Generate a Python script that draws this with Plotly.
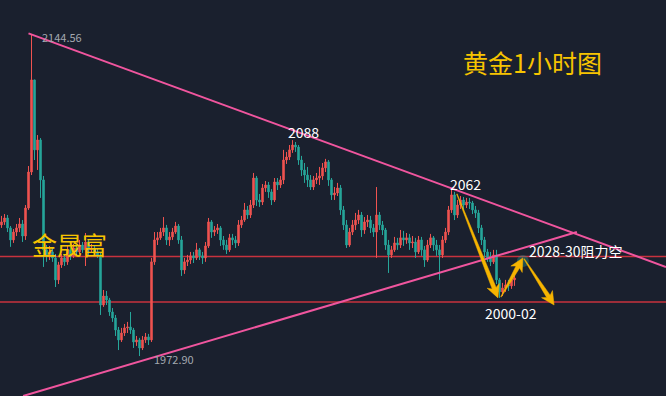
import math
import plotly.graph_objects as go

# ---------------- data (hourly gold candles) ----------------
first_open = 2042.8
close = [2044.4, 2046.5, 2041.2, 2034.8, 2039.0, 2041.2, 2043.3, 2036.9, 2051.8, 2071.0,
         2120.1, 2082.8, 2088.1, 2066.8, 2029.5, 2026.8, 2028.4, 2025.2, 2013.5, 2021.5,
         2025.2, 2023.1, 2029.5, 2026.3, 2030.5, 2028.4, 2032.1, 2029.5, 2033.7, 2029.5,
         2030.5, 2028.4, 2026.8, 2000.1, 2004.9, 2002.8, 1996.4, 1993.2, 1986.8, 1981.5,
         1985.2, 1987.9, 1988.4, 1986.8, 1980.4, 1981.5, 1977.2, 1981.5, 1983.1, 1981.5,
         2023.1, 2034.8, 2035.9, 2039.0, 2041.2, 2034.8, 2036.4, 2039.0, 2042.2, 2034.8,
         2018.8, 2023.1, 2024.1, 2026.3, 2025.2, 2029.5, 2026.3, 2025.2, 2031.6, 2044.4,
         2039.0, 2040.1, 2041.2, 2034.8, 2032.1, 2029.5, 2035.9, 2034.8, 2033.2, 2042.8,
         2045.4, 2050.8, 2048.1, 2053.4, 2067.8, 2056.1, 2055.0, 2062.5, 2064.1, 2060.4,
         2056.1, 2065.7, 2064.1, 2066.8, 2077.4, 2079.0, 2082.8, 2085.4, 2084.3, 2077.4,
         2072.1, 2069.4, 2066.8, 2063.0, 2066.8, 2067.8, 2068.9, 2073.2, 2076.4, 2066.8,
         2058.8, 2059.8, 2062.5, 2050.8, 2042.8, 2032.1, 2039.0, 2042.8, 2045.4, 2048.1,
         2040.1, 2044.4, 2045.4, 2041.2, 2039.0, 2048.1, 2042.8, 2040.1, 2032.1, 2026.8,
         2029.5, 2033.2, 2032.1, 2035.9, 2034.8, 2035.9, 2033.2, 2033.7, 2028.4, 2034.8,
         2029.5, 2024.1, 2032.1, 2035.9, 2032.1, 2029.5, 2026.8, 2034.8, 2039.0, 2050.8,
         2058.8, 2048.1, 2053.4, 2056.1, 2053.4, 2055.0, 2054.5, 2050.8, 2049.2, 2041.2,
         2034.8, 2028.4, 2025.2, 2023.1, 2026.8, 2013.5, 2007.1, 2009.2, 2010.8, 2010.3,
         2013.5, 2014.5]
high = [2047.6, 2048.6, 2048.1, 2042.2, 2040.6, 2043.3, 2046.5, 2045.4, 2053.4, 2074.2,
        2144.56, 2120.1, 2090.7, 2089.1, 2068.9, 2032.1, 2031.6, 2030.5, 2027.3, 2023.1,
        2027.3, 2026.8, 2031.6, 2031.1, 2032.7, 2032.1, 2034.8, 2033.7, 2038.5, 2034.8,
        2032.7, 2031.6, 2030.5, 2028.4, 2008.1, 2007.6, 2003.9, 1998.5, 1994.8, 1988.4,
        1987.9, 1990.0, 1991.1, 1996.4, 1987.9, 1983.6, 1982.6, 1983.6, 1985.2, 1984.7,
        2025.2, 2039.0, 2039.0, 2041.2, 2047.0, 2042.8, 2039.0, 2041.2, 2044.4, 2043.3,
        2036.9, 2025.2, 2026.8, 2028.4, 2028.4, 2033.2, 2030.5, 2028.4, 2033.7, 2046.5,
        2045.4, 2042.2, 2043.3, 2042.2, 2036.9, 2034.8, 2038.0, 2038.0, 2036.9, 2045.4,
        2047.6, 2054.5, 2052.9, 2056.1, 2070.5, 2068.9, 2059.3, 2064.6, 2066.2, 2065.7,
        2061.9, 2067.8, 2067.8, 2068.9, 2082.8, 2081.7, 2085.4, 2088.0, 2087.0, 2085.4,
        2079.6, 2075.8, 2073.7, 2069.4, 2068.9, 2070.5, 2073.7, 2075.8, 2078.0, 2077.4,
        2067.8, 2063.0, 2065.2, 2064.1, 2052.9, 2045.4, 2041.2, 2045.4, 2049.2, 2050.8,
        2049.7, 2047.0, 2048.1, 2047.6, 2043.3, 2063.0, 2049.7, 2044.9, 2041.2, 2034.8,
        2031.6, 2036.4, 2035.9, 2040.1, 2039.6, 2038.5, 2038.0, 2036.9, 2035.9, 2036.9,
        2036.4, 2031.6, 2034.8, 2038.0, 2036.9, 2034.8, 2032.1, 2036.9, 2041.2, 2052.9,
        2062.0, 2060.4, 2056.1, 2058.2, 2057.7, 2057.2, 2057.2, 2055.6, 2052.9, 2050.8,
        2042.8, 2036.4, 2030.0, 2028.4, 2029.5, 2029.5, 2014.5, 2011.9, 2013.5, 2013.5,
        2015.6, 2017.2]
low = [2041.2, 2042.8, 2039.0, 2031.1, 2033.2, 2036.9, 2039.0, 2033.7, 2034.8, 2050.8,
       2069.4, 2077.4, 2072.1, 2057.2, 2020.4, 2023.1, 2024.1, 2023.1, 2009.7, 2011.3,
       2019.9, 2020.9, 2021.5, 2024.1, 2025.2, 2026.3, 2027.3, 2027.9, 2020.9, 2026.8,
       2027.9, 2026.3, 2025.2, 1994.8, 1999.1, 2000.1, 1994.3, 1991.1, 1983.6, 1976.1,
       1980.4, 1983.6, 1985.2, 1984.7, 1977.2, 1978.3, 1972.9, 1976.1, 1979.9, 1978.8,
       1980.4, 2021.5, 2032.1, 2034.8, 2036.9, 2032.1, 2031.6, 2034.8, 2038.0, 2032.7,
       2015.6, 2016.7, 2020.9, 2022.0, 2022.5, 2024.1, 2024.1, 2022.0, 2023.1, 2030.5,
       2035.9, 2036.9, 2038.0, 2031.6, 2029.5, 2027.3, 2028.4, 2032.1, 2030.5, 2031.6,
       2041.2, 2044.4, 2046.0, 2046.5, 2051.8, 2052.9, 2052.4, 2053.4, 2060.4, 2057.2,
       2053.4, 2055.0, 2061.4, 2062.5, 2064.6, 2075.3, 2077.4, 2081.2, 2081.7, 2074.8,
       2068.9, 2065.2, 2063.0, 2061.4, 2061.4, 2064.6, 2064.1, 2066.8, 2071.0, 2063.6,
       2056.1, 2056.1, 2058.2, 2048.1, 2040.1, 2030.5, 2031.1, 2037.4, 2040.1, 2043.3,
       2036.4, 2038.0, 2041.7, 2038.5, 2036.4, 2025.2, 2040.1, 2037.4, 2029.5, 2017.2,
       2025.2, 2028.4, 2029.5, 2030.5, 2031.6, 2032.7, 2029.5, 2030.5, 2025.2, 2027.3,
       2026.3, 2020.4, 2023.1, 2030.5, 2028.9, 2026.3, 2013.5, 2025.2, 2033.2, 2037.4,
       2049.2, 2045.4, 2046.5, 2051.3, 2050.8, 2051.8, 2051.3, 2048.6, 2046.5, 2038.5,
       2032.1, 2025.2, 2023.1, 2020.9, 2022.0, 2011.3, 2003.9, 2004.9, 2007.1, 2007.6,
       2008.7, 2010.3]
open_ = [first_open] + close[:-1]
bars = list(range(len(close)))

# levels, trend lines (bar index, price) and arrows (tail, head)
resistance_level = 2025.9
support_level = 2001.7
upper_trend = [(9.0, 2144.9), (221.5, 2020.4)]
lower_trend = [(7.2, 1951.6), (191.8, 2039.0)]
arrows = [((151.8, 2059.3), (165.5, 2003.9)),
          ((166.5, 2004.4), (173.8, 2025.2)),
          ((174.2, 2024.7), (184.2, 2000.1))]

BG = "#1a202e"
RED = "#ef5350"
TEAL = "#26a69a"
GOLD = "#f7c400"
ARROW = "#f6b400"
PINK = "#f0559e"
LEVEL = "#c8323e"
CJK = "Noto Sans CJK SC"

W, H = 666, 396
XR = (-0.5, 221.5)
YR = (1951.6, 2162.7)

def to_px(x, y):
    return ((x - XR[0]) / (XR[1] - XR[0]) * W, (YR[1] - y) / (YR[1] - YR[0]) * H)

def to_data(px, py):
    return (XR[0] + px / W * (XR[1] - XR[0]), YR[1] - py / H * (YR[1] - YR[0]))

fig = go.Figure()
fig.add_trace(go.Candlestick(
    x=bars, open=open_, high=high, low=low, close=close,
    increasing=dict(line=dict(color=RED, width=1), fillcolor=RED),
    decreasing=dict(line=dict(color=TEAL, width=1), fillcolor=TEAL),
    whiskerwidth=0, showlegend=False, hoverinfo="skip"))

# horizontal levels
for lv in (resistance_level, support_level):
    fig.add_shape(type="line", xref="paper", x0=0, x1=1, y0=lv, y1=lv,
                  line=dict(color=LEVEL, width=1.5), layer="below")

# trend lines
for (x0, y0), (x1, y1) in (upper_trend, lower_trend):
    fig.add_shape(type="line", x0=x0, y0=y0, x1=x1, y1=y1,
                  line=dict(color=PINK, width=2))

# glow at the rebound point
fig.add_trace(go.Scatter(x=[173.8], y=[2023.6], mode="markers",
                         marker=dict(size=12, color="rgba(38,166,154,0.35)", line=dict(width=0)),
                         showlegend=False, hoverinfo="skip"))

# tapered arrows drawn as filled paths
HEAD_L, HEAD_W, SHAFT_W, TAIL_W = 13.0, 6.5, 4.2, 0.6
for (tx, ty), (hx, hy) in arrows:
    t = to_px(tx, ty)
    h = to_px(hx, hy)
    dx, dy = h[0] - t[0], h[1] - t[1]
    ln = math.hypot(dx, dy)
    ux, uy = dx / ln, dy / ln
    nx, ny = -uy, ux
    b = (h[0] - ux * HEAD_L, h[1] - uy * HEAD_L)
    notch = (h[0] - ux * HEAD_L * 0.8, h[1] - uy * HEAD_L * 0.8)
    pts = [
        (t[0] + nx * TAIL_W / 2, t[1] + ny * TAIL_W / 2),
        (notch[0] + nx * SHAFT_W / 2, notch[1] + ny * SHAFT_W / 2),
        (b[0] + nx * HEAD_W, b[1] + ny * HEAD_W),
        h,
        (b[0] - nx * HEAD_W, b[1] - ny * HEAD_W),
        (notch[0] - nx * SHAFT_W / 2, notch[1] - ny * SHAFT_W / 2),
        (t[0] - nx * TAIL_W / 2, t[1] - ny * TAIL_W / 2),
    ]
    dpts = [to_data(*p) for p in pts]
    path = "M " + " L ".join(f"{x:.4f},{y:.4f}" for x, y in dpts) + " Z"
    fig.add_shape(type="path", path=path, fillcolor=ARROW,
                  line=dict(color=ARROW, width=0.5))

def label(x, y, text, size, color, anchor="center", font=CJK):
    fig.add_annotation(x=x, y=y, xref="x", yref="y", text=text, showarrow=False,
                       xanchor=anchor, yanchor="middle",
                       font=dict(family=font, size=size, color=color))

label(12.8, 2143.0, "2144.56", 11, "#a3a8b0", "left")
label(50.3, 1971.3, "1972.90", 11, "#a3a8b0", "left")
label(100.5, 2092.3, "2088", 14, "#ffffff")
label(154.5, 2064.6, "2062", 14, "#ffffff")
label(175.0, 2028.9, "2028-30阻力空", 14, "#ffffff", "left")
label(169.8, 1995.9, "2000-02", 14, "#ffffff")
label(177.0, 2129.6, "黄金1小时图", 25, GOLD)
label(22.8, 2032.6, "金晟富", 25, GOLD)

fig.update_layout(
    width=W, height=H, margin=dict(l=0, r=0, t=0, b=0),
    paper_bgcolor=BG, plot_bgcolor=BG,
    xaxis=dict(range=list(XR), visible=False, rangeslider=dict(visible=False),
               showgrid=False, zeroline=False, fixedrange=True),
    yaxis=dict(range=list(YR), visible=False, showgrid=False,
               zeroline=False, fixedrange=True),
    hovermode=False,
)

fig.write_html("out.html", config={"displayModeBar": False},
               post_script="document.body.style.margin='0';document.body.style.padding='0';"
                           "document.body.style.background='" + BG + "';")
